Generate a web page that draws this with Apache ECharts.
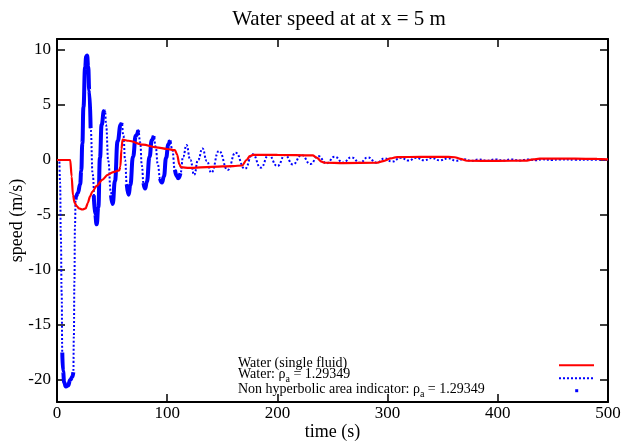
<!DOCTYPE html>
<html><head><meta charset="utf-8">
<script src="https://cdn.jsdelivr.net/npm/echarts@6/dist/echarts.min.js"></script>
<style>html,body{margin:0;padding:0;background:#fff}#c{width:627px;height:441px}</style>
</head><body><div id="c"></div>
<script>
const titleText = 'Water speed at at x = 5 m';
const xName = 'time (s)';
const yName = 'speed (m/s)';
const xTicks = [0, 100, 200, 300, 400, 500];
const yTicks = [-20, -15, -10, -5, 0, 5, 10];
const legendNames = ['Water (single fluid)', 'Water: ρ_a = 1.29349', 'Non hyperbolic area indicator: ρ_a = 1.29349'];

// Water (single fluid) — red
const singleFluid = [
  [0,0],[12,0],[13.3,-1.5],[14.5,-3.2],[16,-3.9],[18,-4.2],[20,-4.4],[23,-4.5],[26,-4.4],[28,-3.9],
  [30,-3.3],[32,-2.9],[36,-2.35],[41,-1.8],[46,-1.35],[51,-1.1],[56.5,-0.95],[57.5,-0.6],[58.5,1.0],
  [59.5,1.85],[65,1.75],[78,1.4],[90,1.15],[100,1.0],[107,0.9],[109,0.5],[111,-0.4],[112.5,-0.65],
  [120,-0.72],[140,-0.62],[160,-0.55],[168,-0.5],[172,0],[175,0.35],[178,0.47],[200,0.46],[232,0.42],
  [236,0.2],[240,-0.15],[243,-0.25],[260,-0.28],[290,-0.25],[296,-0.1],[303,0.15],[308,0.27],[330,0.28],
  [355,0.28],[361,0.25],[366,0.1],[372,-0.07],[400,-0.08],[425,-0.06],[432,0.05],[438,0.12],[470,0.12],
  [490,0.1],[500,0.05]
];

// Water: rho_a = 1.29349 — blue dotted
const waterRho = [
  [0,0],[2,0],[2.8,-2],[3.5,-7],[4.2,-12],[4.8,-17.5],[5.5,-19.2],[6.5,-20.2],[8,-20.6],[10,-20.5],
  [12,-20],[14,-19.7],[14.8,-19.3],[15.3,-16],[15.8,-11],[16.3,-6],[16.9,-3.6],[17.2,-3.3],[19,-3.0],
  [21,-2.2],[22,-1],[23,1.5],[24,4.8],[25.5,8.4],[26.5,9.4],[27.3,9.5],[28.3,8.5],[29.3,6.3],[30.5,2.9],
  [32.4,-1.3],[34.5,-4.9],[36,-5.85],[37.5,-4.3],[39,0.2],[40.5,3.2],[42.6,4.45],[43.6,4.5],[44.5,3.2],
  [46.6,-0.1],[48.7,-2.8],[50.5,-4],[52.6,-1.9],[55,1.7],[57.8,3.2],[58.7,3.4],[60.3,2.2],[61.8,0],
  [63.3,-2.2],[65,-3.15],[66.5,-2.3],[69,0.3],[71.5,2.2],[73.8,2.7],[75.5,1.6],[77,-0.5],[78.5,-2.1],
  [80,-2.6],[81.5,-2],[84,0.3],[86,1.8],[87.8,2.2],[89.5,1.2],[91.5,-0.4],[93.5,-1.7],[95.3,-2.05],
  [97,-1.5],[99,0.2],[101,1.4],[102.5,1.8],[104.5,1],[107,-0.9],[109,-1.5],[110,-1.65],[112,-1.2],
  [114.5,0.3],[117.5,1.36],[121,0],[124.5,-1.36],[128,0],[132,1.05],[136,-0.1],[140,-1.15],[147,0.82],
  [155,-0.9],[162,0.67],[170.5,-0.79],[177.5,0.52],[185,-0.7],[192,0.45],[200,-0.55],[207,0.45],
  [214,-0.4],[222,0.45],[230,-0.36],[237,0.36],[244.5,-0.3],[252,0.3],[259.6,-0.24],[267,0.24],
  [275,-0.24],[282,0.24],[290,-0.24],[297.5,0.15],[304,-0.15],[312,0.2],[319,-0.05],[326,0.2],
  [333,-0.03],[340,0.18],[347,-0.03],[355,0.15],[362,-0.06],[369,0.08],[376,-0.08],[383,0.05],
  [390,-0.06],[398,0.05],[405,-0.05],[412,0.05],[420,-0.04],[427,0.05],[434,-0.02],[441,0.06],
  [449,0.0],[456,0.05],[470,0.03],[485,0.03],[500,0.02]
];

// Non hyperbolic area indicator — thick blue stretches
const indicatorSegments = [
  [[4.8,-17.5],[5.5,-19.2],[6.5,-20.2],[8,-20.6],[10,-20.5],[12,-20],[14,-19.7],[14.8,-19.3]],
  [[16.9,-3.6],[17.2,-3.3],[19,-3.0],[21,-2.2],[22,-1],[23,1.5],[24,4.8],[25.5,8.4],[26.5,9.4],[27.3,9.5],[28.3,8.5],[29.3,6.3],[30.5,2.9]],
  [[33.4,-3.2],[34.5,-4.9],[36,-5.85],[37.5,-4.3],[39,0.2],[40.5,3.2],[42.6,4.45],[43.6,4.5]],
  [[49,-3.2],[50.5,-4],[52.6,-1.9],[55,1.7],[57.8,3.2],[58.7,3.4]],
  [[63.3,-2.2],[65,-3.15],[66.5,-2.3],[69,0.3],[71.5,2.2],[73.8,2.7]],
  [[78.5,-2.1],[80,-2.6],[81.5,-2],[84,0.3],[86,1.8],[87.8,2.2]],
  [[93.5,-1.7],[95.3,-2.05],[97,-1.5],[99,0.2],[101,1.4],[102.5,1.8]],
  [[107,-0.9],[109,-1.5],[110,-1.65],[112,-1.2]]
];

const FONT = '"Liberation Serif", "Times New Roman", serif';
const chart = echarts.init(document.getElementById('c'), null, {renderer: 'canvas'});

const axisCommon = {
  axisLine: {onZero: false, lineStyle: {color: '#000', width: 2}},
  axisTick: {inside: true, length: 8, lineStyle: {color: '#000', width: 1.5}},
  splitLine: {show: false}
};

const series = [
  {name: legendNames[0], type: 'line', data: singleFluid, smooth: 0.3, smoothMonotone: 'x', showSymbol: false,
   lineStyle: {color: '#ff0000', width: 2.2}, z: 3},
  {name: legendNames[1], type: 'line', data: waterRho, smooth: 0.5, smoothMonotone: 'x', showSymbol: false,
   lineStyle: {color: '#0000ff', width: 2, type: [2, 2]}, z: 2}
];
indicatorSegments.forEach(seg => series.push({
  name: legendNames[2], type: 'line', data: seg, smooth: 0.5, smoothMonotone: 'x', showSymbol: false,
  lineStyle: {color: '#0000ff', width: 4}, z: 2
}));

function richLine(txt) {
  const parts = txt.split('_a');
  return '{m|' + parts[0] + '}{s|a}{m|' + parts[1] + '}';
}
const rich = {
  m: {fontFamily: FONT, fontSize: 14, height: 14, lineHeight: 14, verticalAlign: 'top', color: '#000'},
  s: {fontFamily: FONT, fontSize: 10, height: 4, lineHeight: 14, verticalAlign: 'bottom', color: '#000'}
};

chart.setOption({
  animation: false,
  backgroundColor: '#fff',
  title: {text: titleText, left: 334, textAlign: 'center', top: 4,
    textStyle: {fontFamily: FONT, fontSize: 21, fontWeight: 'normal', color: '#000'}},
  grid: {left: 57, right: 19, top: 39, bottom: 39, containLabel: false, outerBoundsMode: 'none'},
  xAxis: [
    Object.assign({type: 'value', position: 'bottom', min: 0, max: 500, interval: 100,
      name: xName, nameLocation: 'middle', nameGap: 21, nameMoveOverlap: false,
      nameTextStyle: {fontFamily: FONT, fontSize: 18, color: '#000'},
      axisLabel: {fontFamily: FONT, fontSize: 17, color: '#000', margin: 3,
        customValues: xTicks, formatter: v => String(v)}}, axisCommon,
      {axisTick: Object.assign({}, axisCommon.axisTick, {customValues: xTicks})}),
    Object.assign({type: 'value', position: 'top', min: 0, max: 500, interval: 100,
      axisLabel: {show: false}}, axisCommon,
      {axisTick: Object.assign({}, axisCommon.axisTick, {customValues: xTicks})})
  ],
  yAxis: [
    Object.assign({type: 'value', position: 'left', min: -22, max: 11,
      name: yName, nameLocation: 'middle', nameGap: 31, nameRotate: 90, nameMoveOverlap: false,
      nameTextStyle: {fontFamily: FONT, fontSize: 18, color: '#000'},
      axisLabel: {fontFamily: FONT, fontSize: 17, color: '#000', margin: 6,
        customValues: yTicks, formatter: v => String(v)}}, axisCommon,
      {axisTick: Object.assign({}, axisCommon.axisTick, {customValues: yTicks})}),
    Object.assign({type: 'value', position: 'right', min: -22, max: 11,
      axisLabel: {show: false}}, axisCommon,
      {axisTick: Object.assign({}, axisCommon.axisTick, {customValues: yTicks})})
  ],
  series: series,
  graphic: [
    {type: 'text', x: 238, y: 363.6, z: 10, style: {text: legendNames[0], fontFamily: FONT, fontSize: 14, fill: '#000', verticalAlign: 'middle'}},
    {type: 'text', x: 238, y: 367.6, z: 10, style: {text: richLine(legendNames[1]), rich: rich, fill: '#000', verticalAlign: 'top'}},
    {type: 'text', x: 238, y: 382.7, z: 10, style: {text: richLine(legendNames[2]), rich: rich, fill: '#000', verticalAlign: 'top'}},
    {type: 'line', z: 10, shape: {x1: 559, y1: 365.3, x2: 594, y2: 365.3}, style: {stroke: '#ff0000', lineWidth: 2}},
    {type: 'line', z: 10, shape: {x1: 559, y1: 378.3, x2: 594, y2: 378.3}, style: {stroke: '#0000ff', lineWidth: 2, lineDash: [2, 2]}},
    {type: 'rect', z: 10, shape: {x: 575.2, y: 389.2, width: 3, height: 3}, style: {fill: '#0000ff'}}
  ]
});
</script>
</body></html>
